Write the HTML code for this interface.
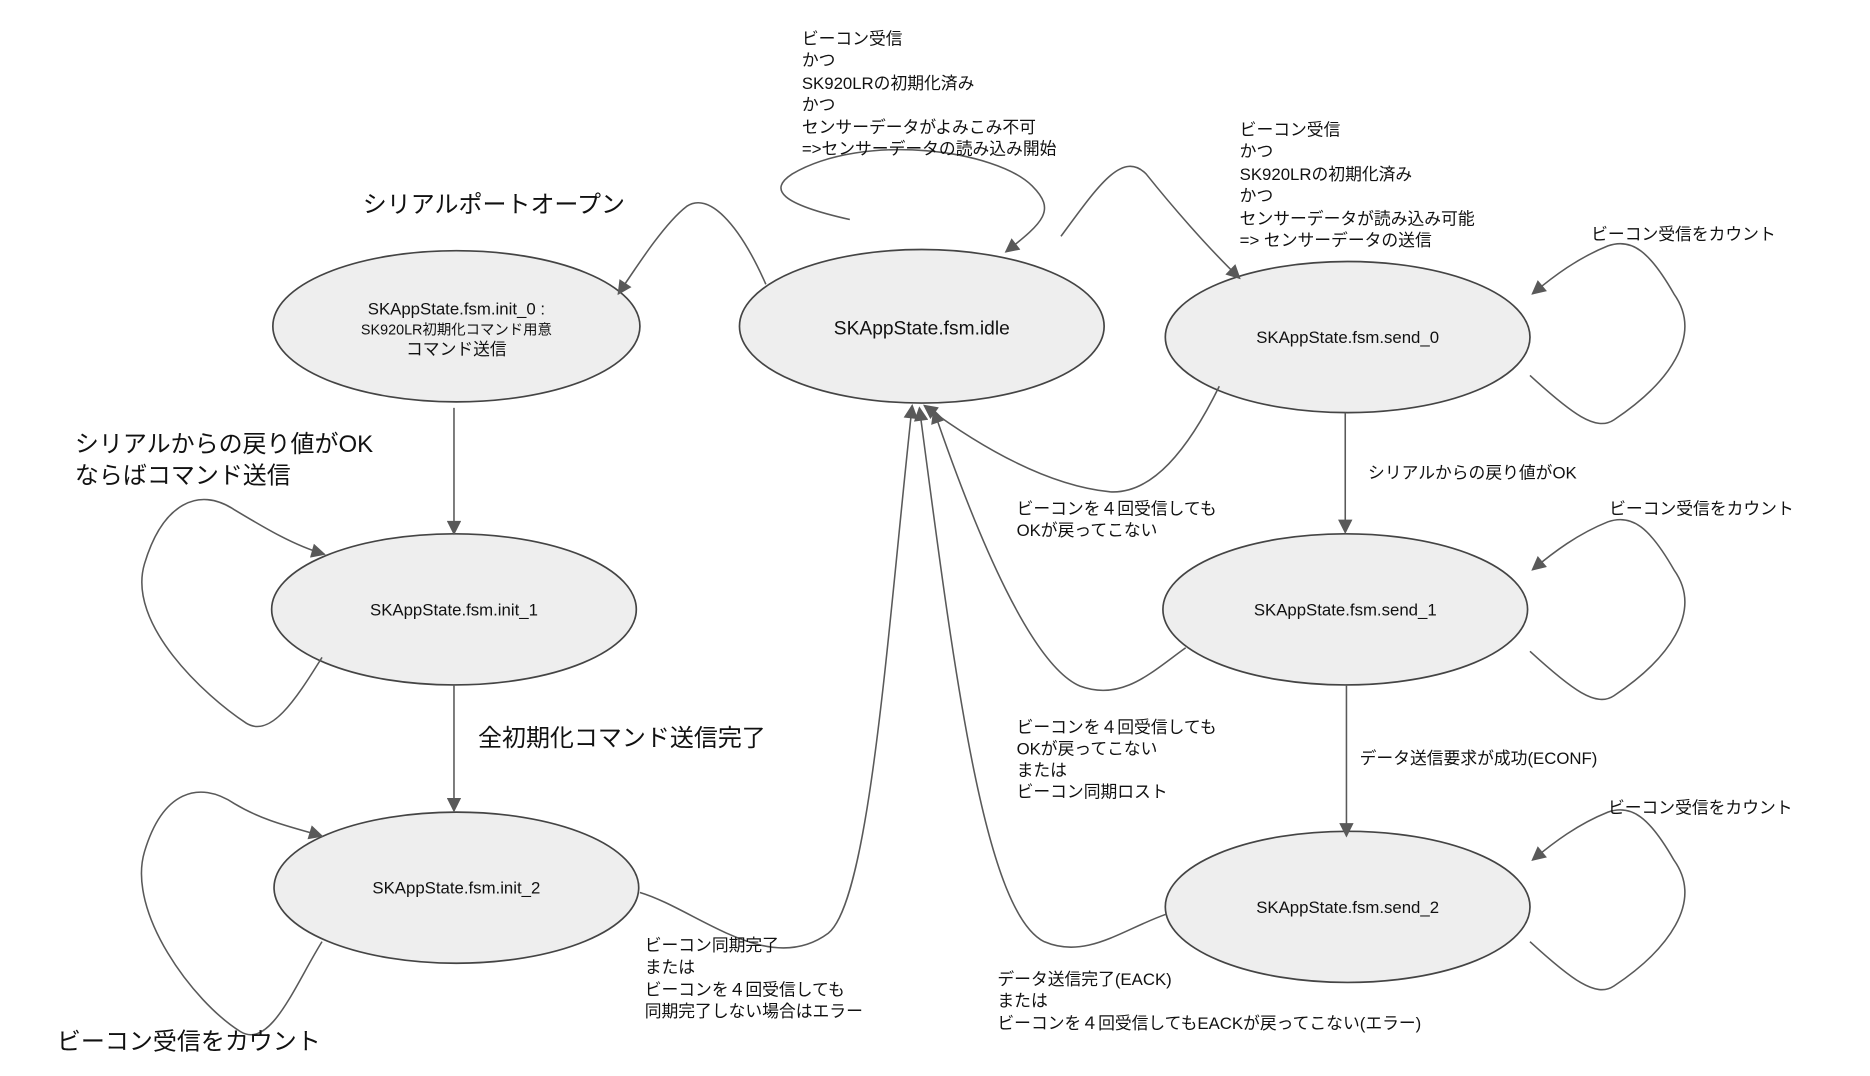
<!DOCTYPE html>
<html><head><meta charset="utf-8"><style>
html,body{margin:0;padding:0;background:#fff;}
svg{display:block;}
text{font-family:"Liberation Sans","Noto Sans CJK JP",sans-serif;fill:#111;}
.s{font-size:14px;}
.b{font-size:20px;}
.n{font-size:14px;text-anchor:middle;}
</style></head><body>
<svg width="1870" height="1076" viewBox="0 0 1558 897" xmlns="http://www.w3.org/2000/svg">
<defs>
<marker id="a" viewBox="0 0 10 10" refX="9" refY="5" markerWidth="7" markerHeight="7" orient="auto" markerUnits="userSpaceOnUse">
<path d="M0,0 L10,5 L0,10 z" fill="#595959"/></marker>
<marker id="A" viewBox="0 0 10 10" refX="9" refY="5" markerWidth="14" markerHeight="12" orient="auto" markerUnits="userSpaceOnUse">
<path d="M0,0 L10,5 L0,10 z" fill="#595959"/></marker>
</defs>
<g fill="#eeeeee" stroke="#444" stroke-width="1.4">
<ellipse cx="380" cy="272" rx="153" ry="63"/>
<ellipse cx="768" cy="272" rx="152" ry="64"/>
<ellipse cx="1123" cy="281" rx="152" ry="63"/>
<ellipse cx="378" cy="508" rx="152" ry="63"/>
<ellipse cx="380" cy="740" rx="152" ry="63"/>
<ellipse cx="1121" cy="508" rx="152" ry="63"/>
<ellipse cx="1123" cy="756" rx="152" ry="63"/>
</g>
<g fill="none" stroke="#595959" stroke-width="1.3" marker-end="url(#A)">
<path d="M378,340 L378,445"/>
<path d="M378,571 L378,676"/>
<path d="M1121,344 L1121,444"/>
<path d="M1122,571 L1122,697"/>
<path d="M638,237 C615,185 590,160 572,172 C555,185 535,215 515,245"/>
<path d="M708,183 C650,170 640,158 660,145 C720,110 830,125 860,155 C880,175 870,185 838,210"/>
<path d="M884,197 C915,155 935,125 955,145 C975,170 1005,205 1033,232"/>
<path d="M1275,313 C1310,345 1330,360 1345,350 C1390,320 1420,280 1395,245 C1375,210 1360,198 1340,205 C1315,215 1295,230 1277,245"/>
<path d="M1275,543 C1310,575 1330,590 1345,580 C1390,550 1420,510 1395,475 C1375,440 1360,428 1340,435 C1315,445 1295,460 1277,475"/>
<path d="M1275,785 C1310,817 1330,832 1345,822 C1390,792 1420,752 1395,717 C1375,682 1360,670 1340,677 C1315,687 1295,702 1277,717"/>
<path d="M268,548 C245,585 225,615 205,603 C170,580 105,520 120,470 C135,420 165,405 195,425 C220,440 245,455 270,462"/>
<path d="M268,785 C245,822 225,875 200,860 C160,835 105,760 120,710 C135,660 165,650 195,670 C220,685 245,690 268,697"/>
<path d="M1016,322 C990,375 960,412 925,410 C875,405 820,375 770,338"/>
<path d="M988,540 C960,560 935,585 900,572 C860,555 815,450 778,342"/>
<path d="M972,762 C935,775 905,800 870,785 C820,760 795,560 766,340"/>
<path d="M533,744 C580,758 640,815 690,778 C725,750 740,520 760,338"/>
</g>
<g>
<text class="n" x="380" y="262">SKAppState.fsm.init_0 :</text>
<text class="n" x="380" y="279" style="font-size:12px">SK920LR初期化コマンド用意</text>
<text class="n" x="380" y="296">コマンド送信</text>
<text class="n" x="768" y="279" style="font-size:16px">SKAppState.fsm.idle</text>
<text class="n" x="1123" y="286">SKAppState.fsm.send_0</text>
<text class="n" x="378" y="513">SKAppState.fsm.init_1</text>
<text class="n" x="380" y="745">SKAppState.fsm.init_2</text>
<text class="n" x="1121" y="513">SKAppState.fsm.send_1</text>
<text class="n" x="1123" y="761">SKAppState.fsm.send_2</text>
</g>
<g class="s">
<text class="s" x="668" y="37">ビーコン受信</text>
<text class="s" x="668" y="55">かつ</text>
<text class="s" x="668" y="74">SK920LRの初期化済み</text>
<text class="s" x="668" y="92">かつ</text>
<text class="s" x="668" y="111">センサーデータがよみこみ不可</text>
<text class="s" x="668" y="129">=&gt;センサーデータの読み込み開始</text>
<text class="s" x="1033" y="113">ビーコン受信</text>
<text class="s" x="1033" y="131">かつ</text>
<text class="s" x="1033" y="150">SK920LRの初期化済み</text>
<text class="s" x="1033" y="168">かつ</text>
<text class="s" x="1033" y="187">センサーデータが読み込み可能</text>
<text class="s" x="1033" y="205">=&gt; センサーデータの送信</text>
<text class="b" x="302" y="177">シリアルポートオープン</text>
<text class="s" x="1326" y="200">ビーコン受信をカウント</text>
<text class="b" x="62" y="377">シリアルからの戻り値がOK</text>
<text class="b" x="62" y="403">ならばコマンド送信</text>
<text class="s" x="1140" y="399">シリアルからの戻り値がOK</text>
<text class="s" x="1341" y="429">ビーコン受信をカウント</text>
<text class="s" x="847" y="429">ビーコンを４回受信しても</text>
<text class="s" x="847" y="447">OKが戻ってこない</text>
<text class="b" x="398" y="622">全初期化コマンド送信完了</text>
<text class="s" x="847" y="611">ビーコンを４回受信しても</text>
<text class="s" x="847" y="629">OKが戻ってこない</text>
<text class="s" x="847" y="647">または</text>
<text class="s" x="847" y="665">ビーコン同期ロスト</text>
<text class="s" x="1133" y="637">データ送信要求が成功(ECONF)</text>
<text class="s" x="1340" y="678">ビーコン受信をカウント</text>
<text class="s" x="537" y="793">ビーコン同期完了</text>
<text class="s" x="537" y="811">または</text>
<text class="s" x="537" y="830">ビーコンを４回受信しても</text>
<text class="s" x="537" y="848">同期完了しない場合はエラー</text>
<text class="s" x="831" y="821">データ送信完了(EACK)</text>
<text class="s" x="831" y="839">または</text>
<text class="s" x="831" y="858">ビーコンを４回受信してもEACKが戻ってこない(エラー)</text>
<text class="b" x="47" y="875">ビーコン受信をカウント</text>
</g>
</svg>
</body></html>
